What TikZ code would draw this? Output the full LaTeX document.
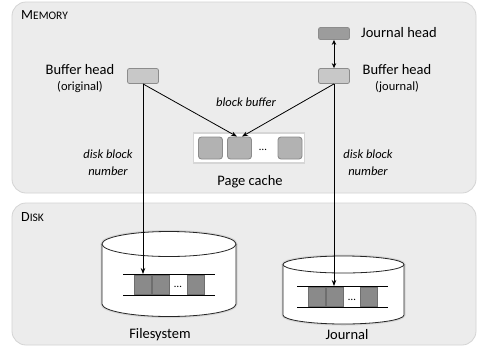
\documentclass[tikz,border=0pt]{standalone}
\usepackage{fontspec}
\setmainfont{Carlito}
\usetikzlibrary{arrows.meta}

\definecolor{panelfill}{HTML}{ECECEC}
\definecolor{panelline}{HTML}{D4D4D4}
\definecolor{headfill}{HTML}{C8C8C8}
\definecolor{jheadfill}{HTML}{9C9C9C}
\definecolor{boxline}{HTML}{8C8C8C}
\definecolor{cachefill}{HTML}{B2B2B2}
\definecolor{diskfill}{HTML}{8A8A8A}
\definecolor{halo}{HTML}{D6D6D6}

\tikzset{
  panel/.style={rounded corners=14pt, fill=panelfill, draw=panelline, line width=0.8pt},
  headbox/.style={rounded corners=2pt, fill=headfill, draw=boxline, line width=0.8pt,
    minimum width=31pt, minimum height=15pt, inner sep=0pt},
  jheadbox/.style={headbox, fill=jheadfill, minimum height=12pt},
  cachebox/.style={rounded corners=3pt, fill=cachefill, draw=boxline, line width=0.9pt,
    minimum width=24pt, minimum height=22pt, inner sep=0pt},
  cacheframe/.style={fill=white, draw=halo, line width=1.5pt, minimum width=111pt,
    minimum height=30pt, inner sep=0pt},
  diskblk/.style={fill=diskfill, draw=diskfill!80!black, line width=0.5pt,
    minimum width=17pt, minimum height=19pt, inner sep=0pt},
  lbl/.style={font=\fontsize{14.5pt}{16pt}\selectfont, inner sep=0pt},
  sublbl/.style={font=\fontsize{12.5pt}{14pt}\selectfont, inner sep=0pt},
  itlbl/.style={font=\fontsize{12.5pt}{17pt}\selectfont\itshape, inner sep=0pt, align=center},
  dots/.style={font=\fontsize{11pt}{12pt}\selectfont, inner sep=0pt},
  conn/.style={line width=0.8pt, -{Stealth[length=6pt,width=4.5pt]}},
  cyl/.style={line width=0.8pt, draw=black!85},
}

\begin{document}
\begin{tikzpicture}[x=1pt,y=-1pt]
\useasboundingbox (0,0) rectangle (479,349);
\fill[white] (0,0) rectangle (479,349);

% the two panels
\draw[panel] (12,2) rectangle (476,193);
\draw[panel] (12,203) rectangle (476,345);
\node[anchor=west, inner sep=0pt] (memlbl) at (21,15.5)
  {\fontsize{14pt}{14pt}\selectfont M\fontsize{11.5pt}{12pt}\selectfont EMORY};
\node[anchor=west, inner sep=0pt] (disklbl) at (21,217.5)
  {\fontsize{14pt}{14pt}\selectfont D\fontsize{11.5pt}{12pt}\selectfont ISK};

% buffer heads and journal head
\node[headbox] (bho) at (143,76) {};
\node[headbox] (bhj) at (334,76) {};
\node[jheadbox] (jh) at (334,33.5) {};

\node[lbl] (bhotxt) at (80,70) {Buffer head};
\node[sublbl] (bhosub) at (80,87) {(original)};
\node[lbl] (bhjtxt) at (397,70) {Buffer head};
\node[sublbl] (bhjsub) at (397,87) {(journal)};
\node[lbl, anchor=west] (jhtxt) at (361,33) {Journal head};

% page cache
\node[cacheframe] (pcf) at (249,148) {};
\node[cachebox] (pc1) at (210.5,148) {};
\node[cachebox] (pc2) at (239.5,148) {};
\node[dots] (pcd) at (263,150) {\dots};
\node[cachebox] (pc3) at (290,148) {};
\node[lbl] (pctxt) at (250,182) {Page cache};

% filesystem cylinder
\draw[halo, line width=3pt] (102,244) -- (102,304)
  arc[start angle=180, end angle=360, x radius=67pt, y radius=12.5pt] -- (236,244);
\draw[halo, line width=3pt] (169,244) ellipse[x radius=67pt, y radius=12.5pt];
\fill[white] (102,244) -- (102,304)
  arc[start angle=180, end angle=360, x radius=67pt, y radius=12.5pt] -- (236,244) -- cycle;
\draw[cyl] (102,244) -- (102,304)
  arc[start angle=180, end angle=360, x radius=67pt, y radius=12.5pt] -- (236,244);
\draw[cyl, fill=white] (169,244) ellipse[x radius=67pt, y radius=12.5pt];
\coordinate (fsl1) at (123,274);
\coordinate (fsr1) at (215,274);
\coordinate (fsl2) at (123,295);
\coordinate (fsr2) at (215,295);
\draw[line width=0.8pt] (fsl1) -- (fsr1);
\draw[line width=0.8pt] (fsl2) -- (fsr2);
\node[diskblk] (fs1) at (143,284.5) {};
\node[diskblk] (fs2) at (161,284.5) {};
\node[dots] (fsd) at (178,287) {\dots};
\node[diskblk] (fs3) at (195.5,284.5) {};
\node[lbl, anchor=base] (fstxt) at (160,338) {Filesystem};

% journal cylinder
\draw[halo, line width=3pt] (283,264.5) -- (283,315)
  arc[start angle=180, end angle=360, x radius=60.5pt, y radius=9pt] -- (404,264.5);
\draw[halo, line width=3pt] (343.5,264.5) ellipse[x radius=60.5pt, y radius=8.5pt];
\fill[white] (283,264.5) -- (283,315)
  arc[start angle=180, end angle=360, x radius=60.5pt, y radius=9pt] -- (404,264.5) -- cycle;
\draw[cyl] (283,264.5) -- (283,315)
  arc[start angle=180, end angle=360, x radius=60.5pt, y radius=9pt] -- (404,264.5);
\draw[cyl, fill=white] (343.5,264.5) ellipse[x radius=60.5pt, y radius=8.5pt];
\coordinate (jrl1) at (297,286);
\coordinate (jrr1) at (388,286);
\coordinate (jrl2) at (297,307);
\coordinate (jrr2) at (388,307);
\draw[line width=0.8pt] (jrl1) -- (jrr1);
\draw[line width=0.8pt] (jrl2) -- (jrr2);
\node[diskblk] (jr1) at (316.5,297) {};
\node[diskblk] (jr2) at (334.5,297) {};
\node[dots] (jrd) at (352,299.5) {\dots};
\node[diskblk] (jr3) at (368.5,297) {};
\node[lbl, anchor=base] (jrtxt) at (347,339) {Journal};

% connectors
\draw[conn] (bho.south) -- ([xshift=-2.5pt]pc2.north);
\draw[conn] (bhj.south) -- ([xshift=2.5pt]pc2.north);
\draw[conn] (bho.south) -- (bho.south |- fsl1);
\draw[conn] (bhj.south) -- (bhj.south |- jrl1);
\draw[line width=0.8pt, {Stealth[length=5pt,width=4.5pt]}-{Stealth[length=5pt,width=4.5pt]}]
  (jh.south) -- (bhj.north);

% connector labels
\node[itlbl] (bbtxt) at (246,102) {block buffer};
\node[itlbl] (dbl) at (108,163) {disk block\\number};
\node[itlbl] (dbr) at (368,163) {disk block\\number};
\end{tikzpicture}
\end{document}
